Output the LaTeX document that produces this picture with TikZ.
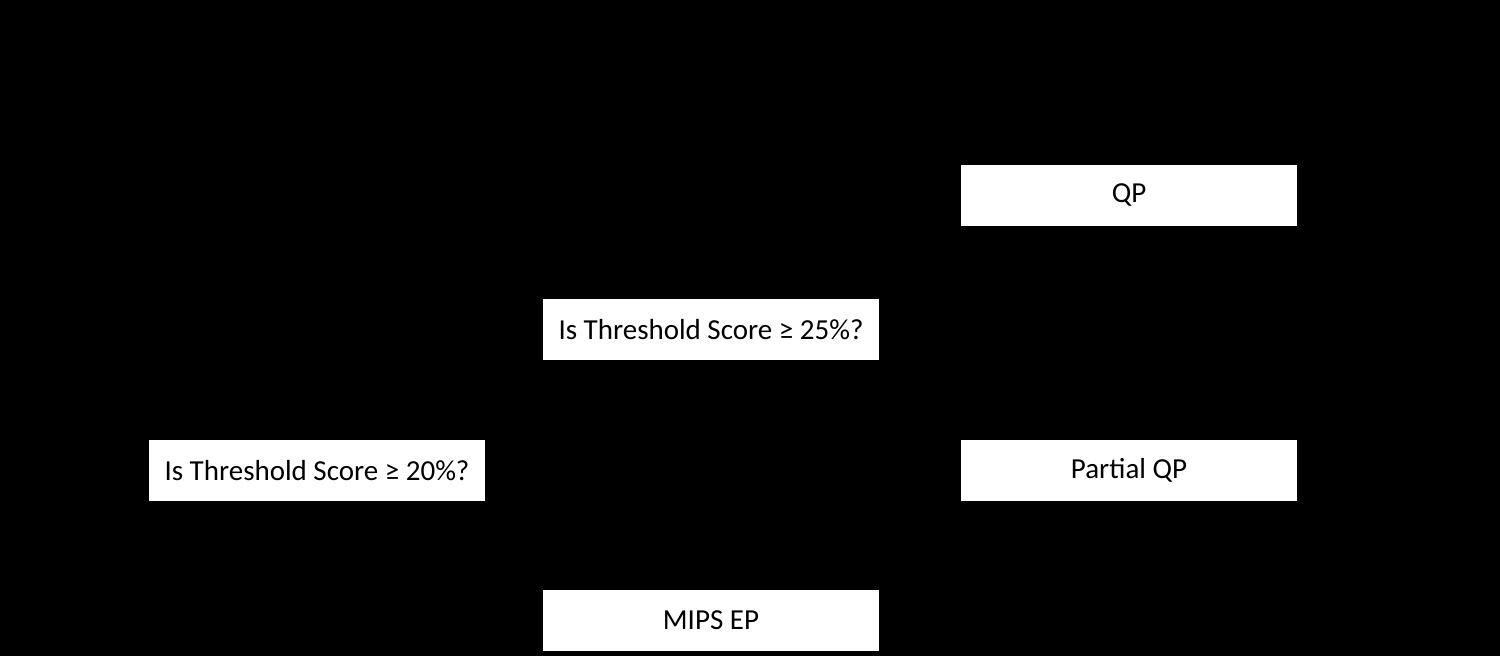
\documentclass[tikz,border=0pt]{standalone}
\usepackage{fontspec}
\setmainfont{Carlito}
\usetikzlibrary{arrows.meta}
\begin{document}
\begin{tikzpicture}[x=1pt,y=-1pt,
  box/.style={draw=none,fill=white,minimum width=336pt,minimum height=61pt,inner sep=0pt,font=\fontsize{29}{33}\selectfont,text=black},
  conn/.style={draw=black,line width=1.5pt,-{Triangle[length=8pt,width=8pt]}}]
\fill[black] (0,0) rectangle (1500,656);
\useasboundingbox (0,0) rectangle (1500,656);
\node[box] (qp) at (1129,195.5) {QP};
\node[box] (t25) at (711,329.5) {Is Threshold Score ≥ 25\%?};
\node[box] (t20) at (317,470.5) {Is Threshold Score ≥ 20\%?};
\node[box] (pqp) at (1129,470.5) {Partial QP};
\node[box] (mips) at (711,620.5) {MIPS EP};
\draw[conn] (t20.north) |- (t25.west);
\draw[conn] (t20.south) |- (mips.west);
\draw[conn] (t25.east) -| ++(40,0) |- (qp.west);
\draw[conn] (t25.east) -| ++(40,0) |- (pqp.west);
\end{tikzpicture}
\end{document}
